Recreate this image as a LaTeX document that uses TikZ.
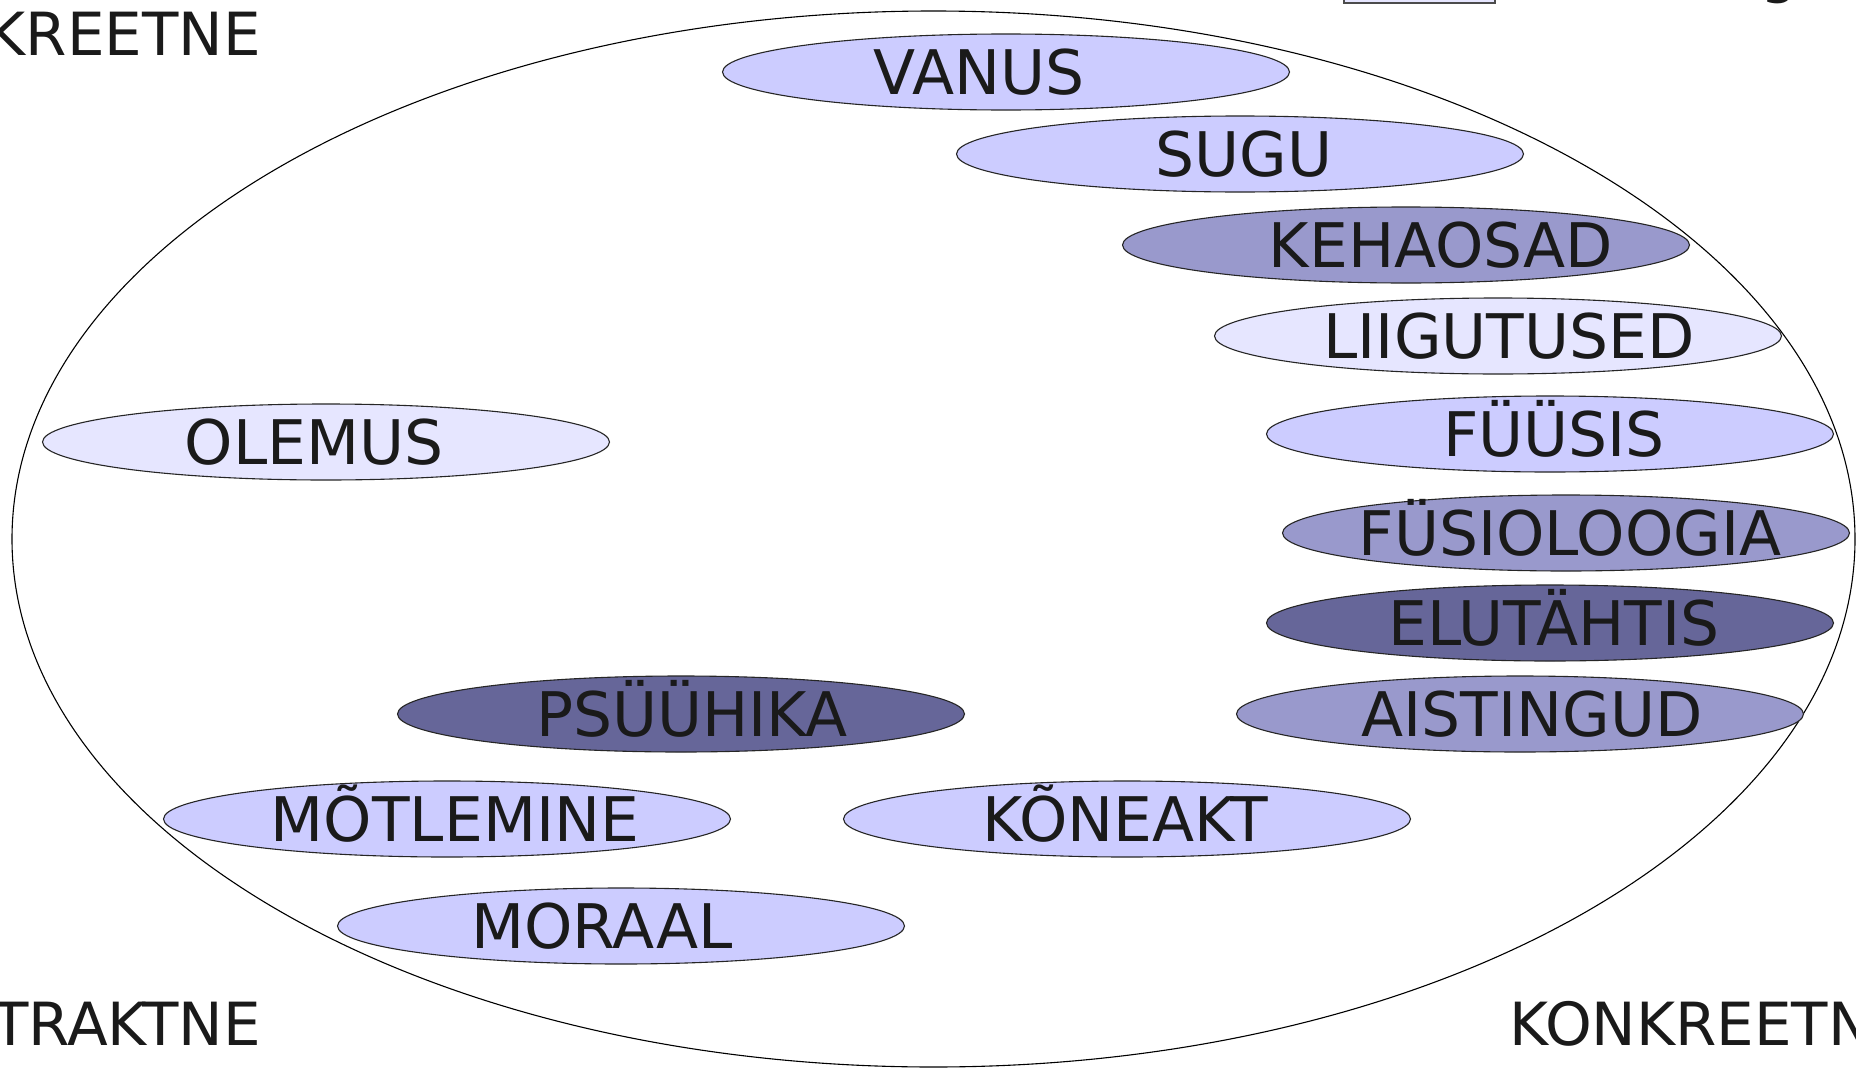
\documentclass[tikz,border=0pt]{standalone}
\usepackage{fontspec}
\setmainfont{DejaVu Sans}
\usetikzlibrary{shapes.geometric}
\definecolor{txt}{HTML}{1A1A1A}
\definecolor{cA}{HTML}{CCCCFF}
\definecolor{cB}{HTML}{E6E6FF}
\definecolor{cC}{HTML}{9999CC}
\definecolor{cD}{HTML}{666699}
\tikzset{
  blob/.style={ellipse, draw=black!85, line width=1.1pt, minimum width=567pt, minimum height=76pt, inner sep=0pt},
  lab/.style={anchor=base, inner sep=0pt, text=txt, font=\fontsize{61.5}{64}\selectfont},
  corner/.style={inner sep=0pt, text=txt, font=\fontsize{59.5}{62}\selectfont},
}
\begin{document}
\begin{tikzpicture}[x=1pt,y=-1pt]
\useasboundingbox (0,0) rectangle (1856,1068);
\clip (0,0) rectangle (1856,1068);
\fill[white] (0,0) rectangle (1856,1068);
% big ellipse
\node[ellipse, draw=black, line width=1.1pt, minimum width=1843pt, minimum height=1056pt, inner sep=0pt] (big) at (933.5,539) {};
% legend remnant
\node[draw=black!70, line width=1.5pt, fill=cB, minimum width=151pt, minimum height=30pt, inner sep=0pt, anchor=south west] (leg) at (1343,3.5) {};
\node[corner, anchor=base west] (legtxt) at (1760,-9) {g};
% corner texts
\node[corner, anchor=base east] (tl) at (261,55) {KONKREETNE};
\node[corner, anchor=base east] (bl) at (261,1045) {ABSTRAKTNE};
\node[corner, anchor=base west] (br) at (1509,1045) {KONKREETNE};
% ellipses
\node[blob, fill=cA] (vanus) at (1006,72) {};
\node[lab] (tvanus) at ([xshift=-27pt,yshift=-22pt]vanus.center) {VANUS};
\node[blob, fill=cA] (sugu) at (1240,154) {};
\node[lab] (tsugu) at ([xshift=4pt,yshift=-22pt]sugu.center) {SUGU};
\node[blob, fill=cC] (keha) at (1406,245) {};
\node[lab] (tkeha) at ([xshift=35pt,yshift=-22pt]keha.center) {KEHAOSAD};
\node[blob, fill=cB] (liig) at (1498,336) {};
\node[lab] (tliig) at ([xshift=11pt,yshift=-22pt]liig.center) {LIIGUTUSED};
\node[blob, fill=cA] (fyys) at (1550,434) {};
\node[lab] (tfyys) at ([xshift=4pt,yshift=-22pt]fyys.center) {FÜÜSIS};
\node[blob, fill=cC] (fysi) at (1566,533) {};
\node[lab] (tfysi) at ([xshift=4pt,yshift=-22pt]fysi.center) {FÜSIOLOOGIA};
\node[blob, fill=cD] (elut) at (1550,623) {};
\node[lab] (telut) at ([xshift=4pt,yshift=-22pt]elut.center) {ELUTÄHTIS};
\node[blob, fill=cC] (aist) at (1520,714) {};
\node[lab] (taist) at ([xshift=12pt,yshift=-22pt]aist.center) {AISTINGUD};
\node[blob, fill=cB] (olem) at (326,442) {};
\node[lab] (tolem) at ([xshift=-12pt,yshift=-22pt]olem.center) {OLEMUS};
\node[blob, fill=cD] (psyy) at (681,714) {};
\node[lab] (tpsyy) at ([xshift=11pt,yshift=-22pt]psyy.center) {PSÜÜHIKA};
\node[blob, fill=cA] (motl) at (447,819) {};
\node[lab] (tmotl) at ([xshift=8pt,yshift=-22pt]motl.center) {MÕTLEMINE};
\node[blob, fill=cA] (kone) at (1127,819) {};
\node[lab] (tkone) at ([xshift=-2pt,yshift=-22pt]kone.center) {KÕNEAKT};
\node[blob, fill=cA] (mora) at (621,926) {};
\node[lab] (tmora) at ([xshift=-19pt,yshift=-22pt]mora.center) {MORAAL};
\end{tikzpicture}
\end{document}
